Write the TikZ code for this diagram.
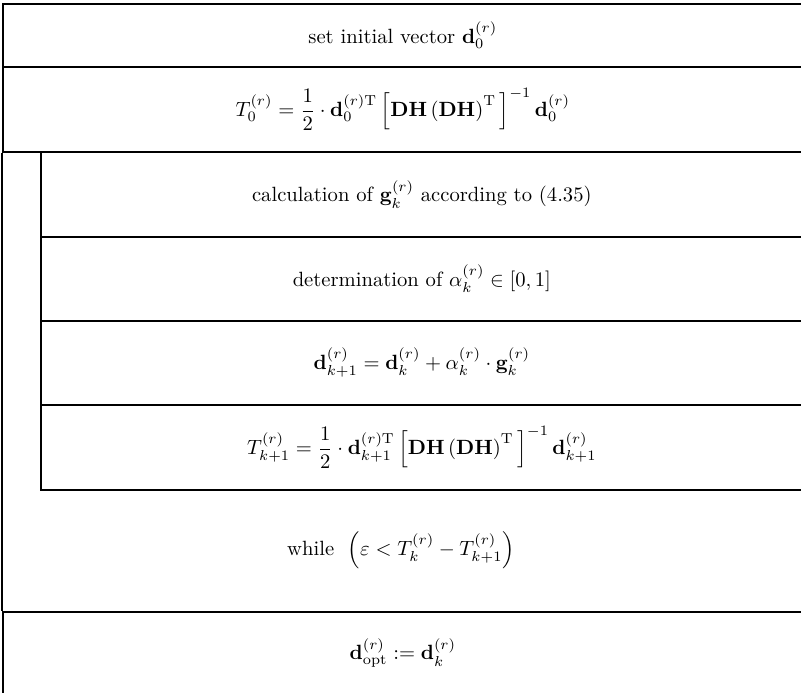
\documentclass[tikz,border=0pt]{standalone}
\usepackage{amsmath}
\tikzset{
    cell/.style={draw,line width=0.8pt,rectangle,anchor=north west,inner sep=0pt,minimum width=388pt},
    body/.style={cell,minimum width=369.6pt},
}
\begin{document}
\begin{tikzpicture}[x=0.485pt,y=-0.485pt]
    \useasboundingbox (0,0) rectangle (801,692);
    % sequence before the loop
    \node[cell,minimum height=30.6pt] (init) at (2,3) {set initial vector $\mathbf{d}_0^{(r)}$};
    \node[cell,minimum height=41.2pt] (tzero) at (2,66)
        {$T_0^{(r)}=\dfrac{1}{2}\cdot\mathbf{d}_0^{(r)\mathrm{T}}\,\Big[\mathbf{DH}\left(\mathbf{DH}\right)^{\mathrm{T}}\Big]^{-1}\,\mathbf{d}_0^{(r)}$};
    % loop body
    \node[body,minimum height=41.2pt] (grad) at (40,151) {calculation of $\mathbf{g}_k^{(r)}$ according to (4.35)};
    \node[body,minimum height=40.7pt] (alpha) at (40,236) {determination of $\alpha_k^{(r)}\in[0,1]$};
    \node[body,minimum height=40.7pt] (step) at (40,320) {$\mathbf{d}_{k+1}^{(r)}=\mathbf{d}_k^{(r)}+\alpha_k^{(r)}\cdot\mathbf{g}_k^{(r)}$};
    \node[body,minimum height=41.2pt] (tnext) at (40,404)
        {$T_{k+1}^{(r)}=\dfrac{1}{2}\cdot\mathbf{d}_{k+1}^{(r)\mathrm{T}}\,\Big[\mathbf{DH}\left(\mathbf{DH}\right)^{\mathrm{T}}\Big]^{-1}\,\mathbf{d}_{k+1}^{(r)}$};
    % loop condition
    \draw[line width=0.8pt] (tzero.south west) -- (2,611);
    \node (cond) at (401,550) {while\ \ $\Big(\varepsilon<T_k^{(r)}-T_{k+1}^{(r)}\Big)$};
    % result
    \node[cell,minimum height=40pt] (opt) at (2,611) {$\mathbf{d}_{\mathrm{opt}}^{(r)}:=\mathbf{d}_k^{(r)}$};
\end{tikzpicture}
\end{document}
